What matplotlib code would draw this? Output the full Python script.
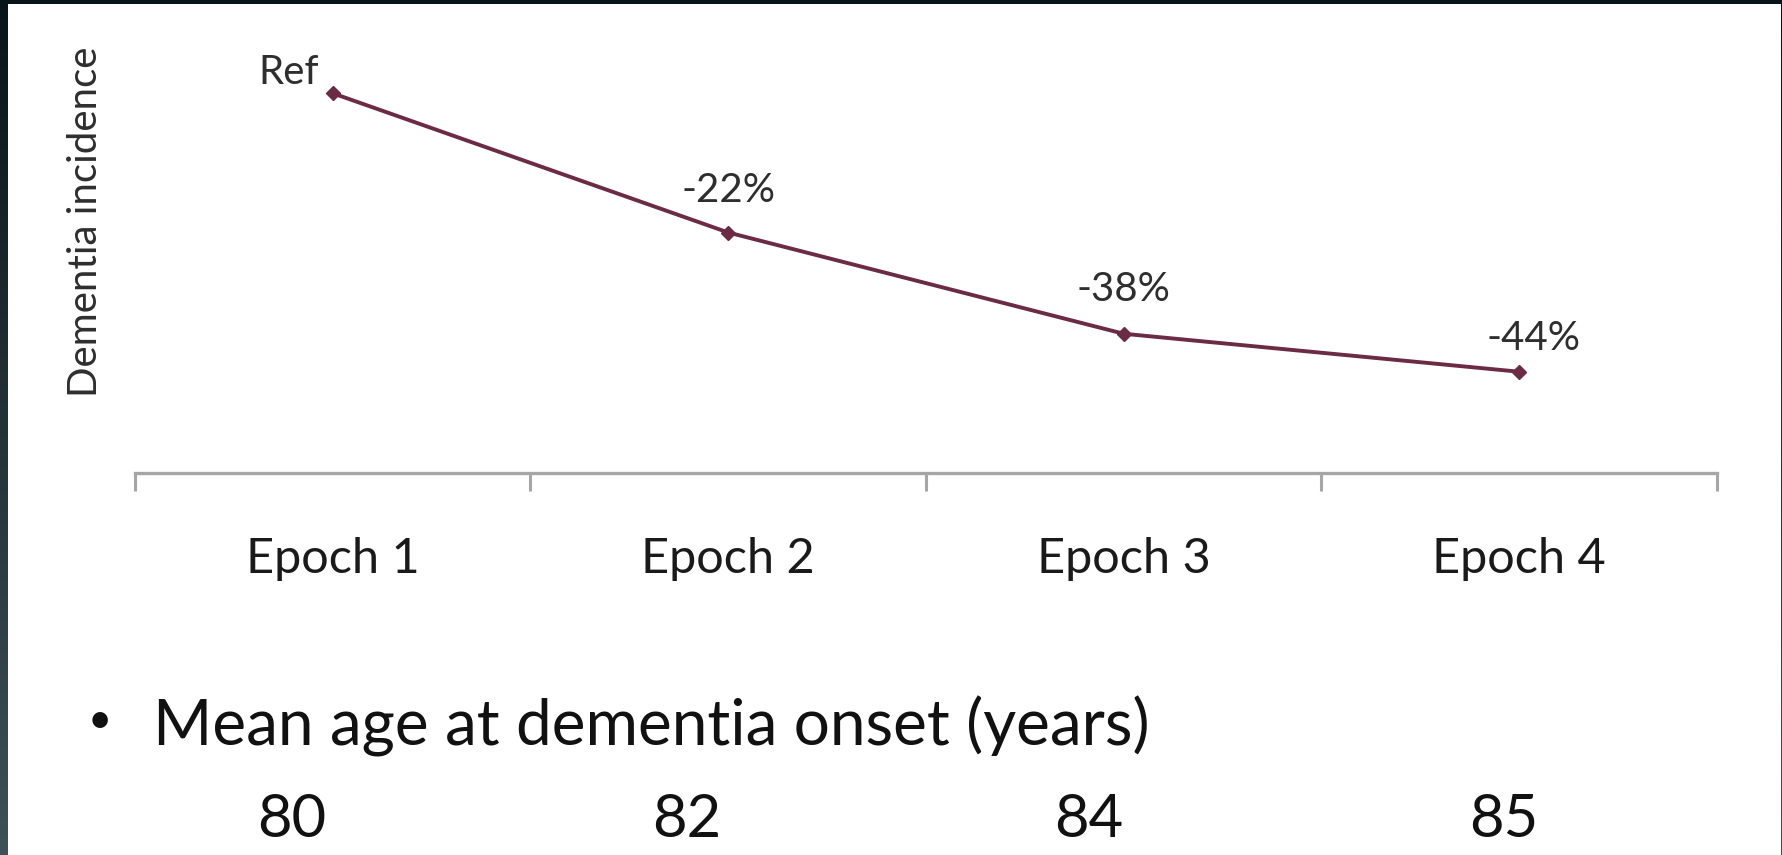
import matplotlib
matplotlib.use("Agg")
import matplotlib.pyplot as plt
import numpy as np
from matplotlib.patches import Rectangle

# data (relative incidence, Epoch 1 = reference)
epochs = ["Epoch 1", "Epoch 2", "Epoch 3", "Epoch 4"]
incidence = [100, 78, 62, 56]
point_labels = ["Ref", "-22%", "-38%", "-44%"]
onset_ages = ["80", "82", "84", "85"]

plt.rcParams['font.family'] = ['Lato', 'DejaVu Sans']

W, H = 1783, 855
fig = plt.figure(figsize=(W / 100, H / 100), dpi=100)

# dark slide frame with a gradient, white content panel on top
bg = fig.add_axes([0, 0, 1, 1], zorder=-10)
grad = np.linspace(0, 1, 256).reshape(-1, 1)
top_c = np.array([0.03, 0.08, 0.10])
bot_c = np.array([0.24, 0.32, 0.34])
img = top_c + grad[..., None] * (bot_c - top_c)
bg.imshow(img, aspect='auto', extent=[0, 1, 0, 1], origin='upper')
bg.add_patch(Rectangle((8 / W, 0), (1781 - 8) / W, (H - 4) / H,
                       facecolor='white', edgecolor='none'))
bg.set_xlim(0, 1)
bg.set_ylim(0, 1)
bg.axis('off')

ax = fig.add_axes([135 / W, (H - 473) / H, (1717 - 135) / W, (473 - 30) / H])
ax.patch.set_alpha(0)
x = np.arange(1, len(epochs) + 1)
line_color = '#6c2b44'
ax.plot(x, incidence, color=line_color, lw=2.8, marker='D', ms=7,
        mec=line_color, mfc=line_color)

ax.set_xlim(0.5, 4.5)
ax.set_ylim(40, 110)

offsets = [(-32, 15), (0, 30), (0, 32), (10, 24)]
for xi, yi, lab, (dx, dy) in zip(x, incidence, point_labels, offsets):
    ax.annotate(lab, (xi, yi), xytext=(dx, dy), textcoords='offset points',
                ha='center', va='center', fontsize=29, color='#2e2e2e')

for s in ['top', 'right', 'left']:
    ax.spines[s].set_visible(False)
ax.spines['bottom'].set_color('#a6a6a6')
ax.spines['bottom'].set_linewidth(2.4)
ax.set_yticks([])
ax.set_xticks(np.arange(0.5, 5, 1))
ax.set_xticklabels([])
ax.tick_params(axis='x', which='major', direction='out', length=13,
               width=2.2, color='#a6a6a6')
ax.set_xticks(x, epochs, minor=True)
ax.tick_params(axis='x', which='minor', length=0, pad=46, labelsize=35,
               labelcolor='#1a1a1a')

ax.set_ylabel("Dementia incidence", fontsize=29, color='#2e2e2e')
ax.yaxis.set_label_coords(-(135 - 104) / (1717 - 135), (473 - 222) / (473 - 30))

# bullet line and onset ages below the chart
fig.text(100 / W, 1 - 721 / H, "\u2022", fontsize=30, ha='center', va='center',
         color='#111111')
fig.text(153 / W, 1 - 745 / H, "Mean age at dementia onset (years)",
         fontsize=46, ha='left', va='baseline', color='#111111')
for cx, age in zip([292, 687, 1089, 1504], onset_ages):
    fig.text(cx / W, 1 - 837 / H, age, fontsize=43, ha='center', va='baseline',
             color='#111111')

fig.savefig("out.png", dpi=100)
